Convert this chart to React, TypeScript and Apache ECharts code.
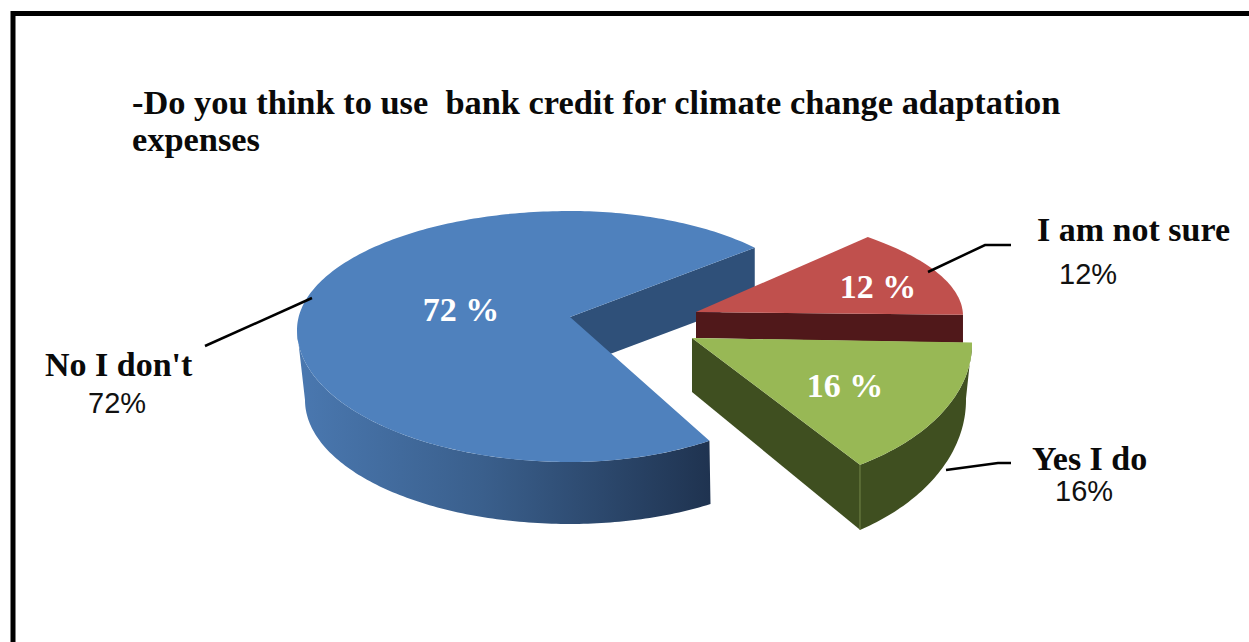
import React, { useEffect, useRef } from "react";
import * as echarts from "echarts";

// Survey answers, in drawing order around the pie
const answers = ["No I don't", "I am not sure", "Yes I do"];
const shares = [72, 12, 16];
const titleLines = [
  "-Do you think to use  bank credit for climate change adaptation",
  "expenses",
];

const SERIF = "'Liberation Serif', 'Times New Roman', serif";
const SANS = "'Liberation Sans', Arial, sans-serif";
const FIRST_SLICE_START = 57; // degrees, clockwise on screen from 3 o'clock

type Oval = { cx: number; cy: number; left: number; right: number; up: number; down: number };

// Foreshortened outline of each exploded slice: the near half of a tilted disc is
// stretched, so each quadrant has its own radius.
const sliceGeometry: {
  apex: [number, number];
  top: Oval;
  bottom?: Oval;
  color: string;
  wall: any;
  cut: string;
  cutDepth: [number, number];
}[] = [
  {
    apex: [570, 317],
    top: { cx: 570, cy: 330, left: 273, right: 256, up: 119, down: 132 },
    bottom: { cx: 570, cy: 400, left: 265, right: 258, up: 115, down: 124 },
    color: "#4f81bd",
    wall: {
      type: "linear", x: 0, y: 0, x2: 1, y2: 0,
      colorStops: [
        { offset: 0, color: "#4a78b0" },
        { offset: 0.45, color: "#3a5f8c" },
        { offset: 1, color: "#1f3350" },
      ],
    },
    cut: "#2f5079",
    cutDepth: [52, 52],
  },
  {
    apex: [696, 312],
    top: { cx: 621, cy: 316, left: 342, right: 342, up: 114, down: 114 },
    color: "#c0504d",
    wall: "#50181a",
    cut: "#50181a",
    cutDepth: [26, 28],
  },
  {
    apex: [692, 338],
    top: { cx: 726, cy: 344, left: 246, right: 246, up: 144, down: 144 },
    bottom: { cx: 733, cy: 400, left: 233, right: 233, up: 155, down: 155 },
    color: "#98b855",
    wall: "#3f4f20",
    cut: "#3f4f20",
    cutDepth: [54, 65],
  },
];

const ovalPoint = (o: Oval, deg: number): [number, number] => {
  const r = (deg * Math.PI) / 180;
  const c = Math.cos(r);
  const s = Math.sin(r);
  return [o.cx + c * (c < 0 ? o.left : o.right), o.cy + s * (s < 0 ? o.up : o.down)];
};

const arcPoints = (o: Oval, from: number, to: number) => {
  const steps = Math.max(2, Math.ceil(Math.abs(to - from)));
  const pts: [number, number][] = [];
  for (let i = 0; i <= steps; i++) pts.push(ovalPoint(o, from + ((to - from) * i) / steps));
  return pts;
};

const total = shares.reduce((a, b) => a + b, 0);

function renderSlice(params: any, api: any) {
  const i = params.dataIndex;
  const g = sliceGeometry[i];
  const sweep = (api.value(0) / total) * 360;
  let start = FIRST_SLICE_START;
  for (let k = 0; k < i; k++) start += (shares[k] / total) * 360;
  const end = start + sweep;
  const children: any[] = [];

  // Straight cut face, running from the apex to the slice's closing edge
  const edge = ovalPoint(g.top, end);
  children.push({
    type: "polygon",
    shape: {
      points: [
        g.apex,
        edge,
        [edge[0], edge[1] + g.cutDepth[1]],
        [g.apex[0], g.apex[1] + g.cutDepth[0]],
      ],
    },
    style: { fill: g.cut },
  });

  // Outer rim, on the slices whose curved side faces the viewer
  if (g.bottom) {
    // the big slice's rim goes out of sight past the far left of the disc
    const rimTo = i === 0 ? 180 : end;
    children.push({
      type: "polygon",
      shape: {
        points: [...arcPoints(g.top, start, rimTo), ...arcPoints(g.bottom, rimTo, start)],
      },
      style: { fill: g.wall },
    });
  }

  // Thin highlight where the green slice's two side faces meet
  if (i === 2) {
    children.push({
      type: "line",
      shape: { x1: edge[0], y1: edge[1], x2: edge[0], y2: edge[1] + g.cutDepth[1] },
      style: { stroke: "#76884a", lineWidth: 1 },
    });
  }

  children.push({
    type: "polygon",
    shape: { points: [g.apex, ...arcPoints(g.top, start, end)] },
    style: { fill: g.color },
  });
  return { type: "group", children };
}

// Callout placement for each answer: name, share, leader line, and the share on the slice
const calloutLayout = [
  { nameX: 45, nameY: 364, shareX: 88, shareY: 403, onSliceX: 461, onSliceY: 309, leader: [[205, 346], [312, 298]] },
  { nameX: 1037, nameY: 229, shareX: 1059, shareY: 274, onSliceX: 878, onSliceY: 286, leader: [[928, 272], [985, 245], [1011, 245]] },
  { nameX: 1032, nameY: 458, shareX: 1055, shareY: 491, onSliceX: 845, onSliceY: 385, leader: [[946, 470], [998, 463], [1011, 463]] },
];

const text = (t: string, x: number, y: number, size: number, family: string, bold: boolean, fill: string, align = "left") => ({
  type: "text",
  z: 20,
  style: {
    text: t, x, y, fill, align, verticalAlign: "middle",
    fontSize: size, fontFamily: family, fontWeight: bold ? "bold" : "normal",
  },
});

export default function App() {
  const ref = useRef<HTMLDivElement>(null);
  useEffect(() => {
    const chart = echarts.init(ref.current!, undefined, { renderer: "svg" });
    const graphics: any[] = [
      {
        type: "rect",
        z: 1,
        shape: { x: 13, y: 13.5, width: 1400, height: 800 },
        style: { fill: "#ffffff", stroke: "#000000", lineWidth: 5 },
        silent: true,
      },
    ];
    answers.forEach((name, i) => {
      const c = calloutLayout[i];
      graphics.push({
        type: "polyline",
        z: 10,
        shape: { points: c.leader },
        style: { stroke: "#000000", lineWidth: 2.5, fill: "none" },
      });
      graphics.push(text(name, c.nameX, c.nameY, 34, SERIF, true, "#0a0a0a"));
      graphics.push(text(`${shares[i]}%`, c.shareX, c.shareY, 29, SANS, false, "#111111"));
      graphics.push(text(`${shares[i]} %`, c.onSliceX, c.onSliceY, 34, SERIF, true, "#ffffff", "center"));
    });
    chart.setOption({
      animation: false,
      backgroundColor: "#ffffff",
      title: {
        text: titleLines.join("\n"),
        left: 127,
        top: 78,
        textStyle: {
          fontFamily: SERIF,
          fontWeight: "bold",
          fontSize: 34.4,
          lineHeight: 37,
          color: "#0a0a0a",
        },
        z: 20,
      },
      graphic: graphics,
      series: [
        {
          type: "custom",
          coordinateSystem: "none",
          renderItem: renderSlice,
          data: shares,
          z: 5,
          silent: true,
        },
      ],
    });
    return () => chart.dispose();
  }, []);
  return (
    <div
      ref={ref}
      style={{ position: "fixed", left: 0, top: 0, width: 1249, height: 642 }}
    />
  );
}
